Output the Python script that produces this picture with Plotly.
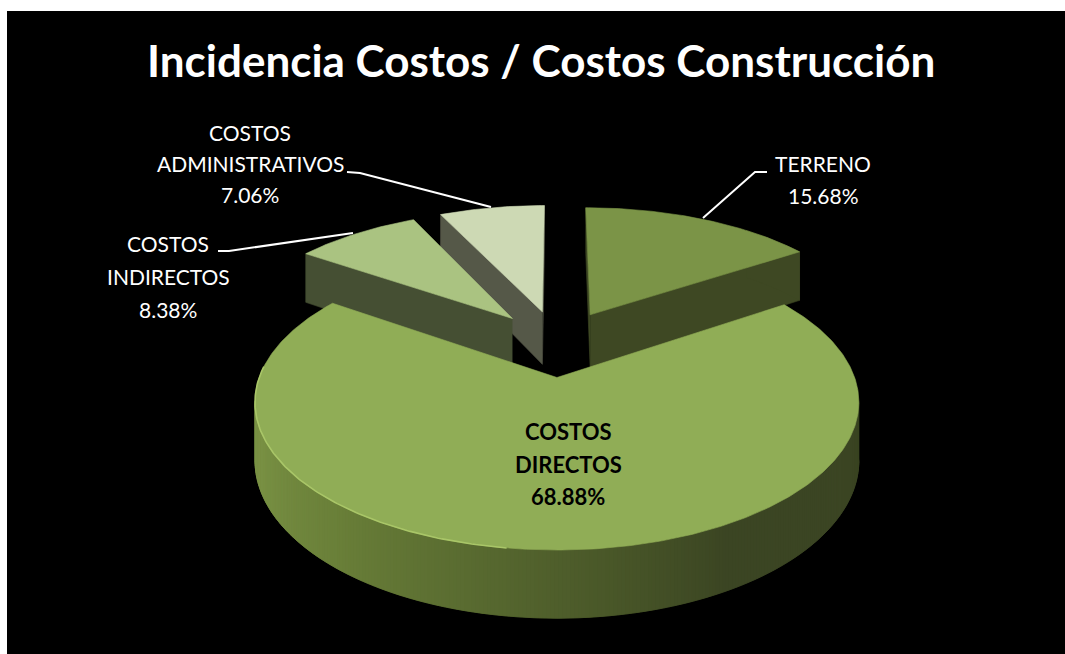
import numpy as np
import plotly.graph_objects as go

# ---- data ----
categories = ["TERRENO", "COSTOS DIRECTOS", "COSTOS INDIRECTOS", "COSTOS ADMINISTRATIVOS"]
values = [15.68, 68.88, 8.38, 7.06]
title_text = "Incidencia Costos / Costos Construcción"

# ---- style ----
top_colors = ["#7B9447", "#90AD56", "#AAC381", "#CDD9B4"]
wall_colors = ["#3E4823", "#3B4523", "#454F33", "#555848"]
draw_order = [3, 0, 2, 1]

# ---- projection of the exploded 3-D pie ----
CX, CY = 557.5, 343.0
FX, FY, PERSP = 285.8, 132.5, 0.16
DEPTH = 54.5
EXPLODE = 0.25


def project(X, Y, Z=0.0):
    w = 1 + PERSP * np.asarray(Y)
    return CX + FX * np.asarray(X) / w, CY + (-FY * np.asarray(Y) + DEPTH * Z) / w


def polygon(xs, ys, color, name=None):
    return go.Scatter(x=list(xs), y=list(ys), mode="lines", fill="toself", fillcolor=color,
                      line=dict(width=0.6, color=color), hoverinfo="skip", showlegend=False, name=name)


def rim_color(theta_deg):
    # shading of the round wall of the big slice, bright on the left, dark on the right
    stops_t = [150, 172, 195, 220, 250, 285]
    stops_r = [0x3B, 0x4A, 0x5A, 0x6A, 0x7A, 0x7E]
    stops_g = [0x45, 0x58, 0x6C, 0x80, 0x92, 0x97]
    stops_b = [0x23, 0x29, 0x31, 0x39, 0x45, 0x49]
    return "rgb(%d,%d,%d)" % (np.interp(theta_deg, stops_t, stops_r), np.interp(theta_deg, stops_t, stops_g),
                              np.interp(theta_deg, stops_t, stops_b))


fractions = np.array(values) / sum(values)
ends = np.cumsum(fractions) * 2 * np.pi
starts = ends - fractions * 2 * np.pi

fig = go.Figure()
rim_line = None
for i in draw_order:
    a0, a1 = starts[i], ends[i]
    mid = (a0 + a1) / 2
    ox, oy = EXPLODE * np.sin(mid), EXPLODE * np.cos(mid)
    t = np.linspace(a0, a1, max(int((a1 - a0) * 90), 12))
    ax, ay = ox + np.sin(t), oy + np.cos(t)

    # radial walls that face the viewer
    for ang, is_start in ((a0, True), (a1, False)):
        qx = np.array([ox, ox + np.sin(ang), ox + np.sin(ang), ox])
        qy = np.array([oy, oy + np.cos(ang), oy + np.cos(ang), oy])
        qz = np.array([0, 0, 1, 1])
        sx, sy = project(qx, qy, qz)
        area = np.sum(sx * np.roll(sy, -1) - np.roll(sx, -1) * sy)
        if (area < 0) == is_start:
            fig.add_trace(polygon(sx, sy, wall_colors[i]))

    # round wall: narrow strips on the big slice so that it can carry the shading
    if i == 1:
        front = [j for j in range(len(t) - 1)
                 if project(ax[j + 1], ay[j + 1])[0] < project(ax[j], ay[j])[0]]
        for j in front:
            idx = [j, min(j + 2, len(t) - 1), min(j + 2, len(t) - 1), j]
            sx, sy = project(ax[idx], ay[idx], np.array([0, 0, 1, 1]))
            fig.add_trace(polygon(sx, sy, rim_color(np.degrees(t[j]))))
    elif i == 0:
        idx = np.where(t > np.radians(40))[0]
        sx, sy = project(np.r_[ax[idx], ax[idx][::-1]], np.r_[ay[idx], ay[idx][::-1]],
                         np.r_[np.zeros(len(idx)), np.ones(len(idx))])
        fig.add_trace(polygon(sx, sy, wall_colors[i]))

    # top face
    sx, sy = project(np.r_[ox, ax, ox], np.r_[oy, ay, oy])
    fig.add_trace(polygon(sx, sy, top_colors[i], name=categories[i]))

    if i == 1:
        keep = (t > np.radians(188)) & (t < np.radians(275))
        rim_line = project(ax[keep], ay[keep])

fig.add_trace(go.Scatter(x=rim_line[0], y=rim_line[1], mode="lines", hoverinfo="skip", showlegend=False,
                         line=dict(color="#A9C668", width=1.6)))

# leader lines
for lx, ly in (([347, 360, 491], [172, 173, 207]),
               ([218, 229, 353], [251, 251, 233]),
               ([703, 755, 767], [218, 172, 172])):
    fig.add_trace(go.Scatter(x=lx, y=ly, mode="lines", hoverinfo="skip", showlegend=False,
                             line=dict(color="white", width=2)))


def label(lines, x, ys, color="white", bold=False, size=21):
    out = []
    for txt, y in zip(lines, ys):
        s = f"<b>{txt}</b>" if bold else txt
        out.append(dict(x=x, y=y, xref="x", yref="y", text=s, showarrow=False, xanchor="center", yanchor="middle",
                        font=dict(family="Lato, Carlito, sans-serif", size=size, color=color)))
    return out


anns = [dict(x=541, y=60, xref="x", yref="y", text=f"<b>{title_text}</b>", showarrow=False, xanchor="center",
             yanchor="middle", font=dict(family="Lato, Carlito, sans-serif", size=44, color="white"))]
anns += label(["TERRENO", f"{values[0]:.2f}%"], 823, [163, 195])
anns += label(["COSTOS", "DIRECTOS", f"{values[1]:.2f}%"], 568, [431, 464, 496], color="black", bold=True, size=22)
anns += label(["COSTOS", "INDIRECTOS", f"{values[2]:.2f}%"], 168, [243, 276, 309])
anns += label(["COSTOS", "ADMINISTRATIVOS", f"{values[3]:.2f}%"], 250, [132, 163, 194])

fig.update_layout(
    width=1065, height=654, autosize=False,
    margin=dict(l=0, r=0, t=0, b=0),
    paper_bgcolor="white", plot_bgcolor="white",
    xaxis=dict(range=[0, 1065], visible=False, fixedrange=True),
    yaxis=dict(range=[654, 0], visible=False, fixedrange=True),
    shapes=[dict(type="rect", xref="x", yref="y", x0=7, x1=1065, y0=11, y1=654, fillcolor="black",
                 line=dict(width=0), layer="below")],
    annotations=anns,
    showlegend=False,
)
fig.write_html("out.html", config={"displayModeBar": False},
               post_script="document.body.style.margin='0';document.body.style.overflow='hidden';")
